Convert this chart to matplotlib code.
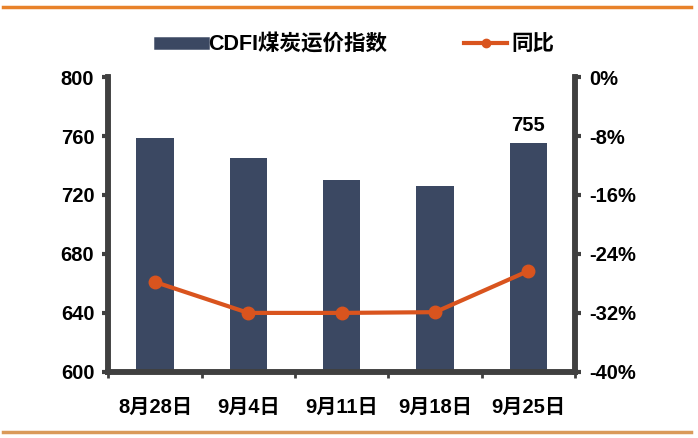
import matplotlib
matplotlib.use("Agg")
import matplotlib.pyplot as plt
from matplotlib.lines import Line2D
from matplotlib.ticker import FuncFormatter

plt.rcParams["font.family"] = ["Liberation Sans", "Noto Sans CJK SC", "DejaVu Sans"]
plt.rcParams["font.weight"] = "bold"

dates = ["8月28日", "9月4日", "9月11日", "9月18日", "9月25日"]
cdfi = [759, 745, 730, 726, 755]
yoy = [-27.8, -32.0, -32.0, -31.9, -26.3]

BAR = "#3B4862"
LINE = "#D9541E"
AXC = "#404040"

fig = plt.figure(figsize=(6.98, 4.38), dpi=100)
ax = fig.add_axes([0.155, 0.151, 0.669, 0.673])
x = range(len(dates))
ax.bar(x, cdfi, width=0.4, color=BAR, zorder=2)
ax.set_ylim(600, 800)
ax.set_yticks(range(600, 801, 40))
ax.set_xlim(-0.5, len(dates) - 0.5)
ax.set_xticks([i - 0.5 for i in range(len(dates) + 1)], minor=False)
ax.set_xticklabels([])
ax.set_xticks(list(x), minor=True)
ax.set_xticklabels(dates, minor=True)
ax.tick_params(axis="x", which="minor", length=0, pad=19, labelsize=14.5)
ax.tick_params(axis="x", which="major", length=4, width=2, color=AXC, direction="out")
ax.tick_params(axis="y", length=4, width=3, color=AXC, labelsize=14.5, pad=6)
ax.annotate(str(cdfi[-1]), (4, cdfi[-1]), xytext=(0, 6), textcoords="offset points",
            ha="center", va="bottom", fontsize=14.5, fontweight="bold")

ax2 = ax.twinx()
ax2.plot(x, yoy, color=LINE, lw=3, marker="o", ms=9, zorder=3)
ax2.set_ylim(-40, 0)
ax2.set_yticks(range(-40, 1, 8))
ax2.yaxis.set_major_formatter(FuncFormatter(lambda v, p: f"{v:.0f}%"))
ax2.tick_params(axis="y", length=4, width=3, color=AXC, labelsize=14.5, pad=6)

for a in (ax, ax2):
    a.spines["top"].set_visible(False)
    for s in ("left", "right", "bottom"):
        a.spines[s].set_color(AXC)
        a.spines[s].set_linewidth(4)

handles = [Line2D([], [], color=BAR, lw=9),
           Line2D([], [], color=LINE, lw=3, marker="o", ms=6)]
fig.legend(handles, ["CDFI煤炭运价指数", "同比"], loc="center", ncol=2,
           bbox_to_anchor=(0.512, 0.897), frameon=False, fontsize=15.5,
           handlelength=2.0, columnspacing=3.6, handletextpad=0.2)

fig.add_artist(Line2D([0.005, 0.99], [0.985, 0.985], color="#E8822A", lw=2.5))
fig.add_artist(Line2D([0.005, 0.99], [0.014, 0.014], color="#DA9A5A", lw=2.5))

fig.savefig("out.png", dpi=100)
